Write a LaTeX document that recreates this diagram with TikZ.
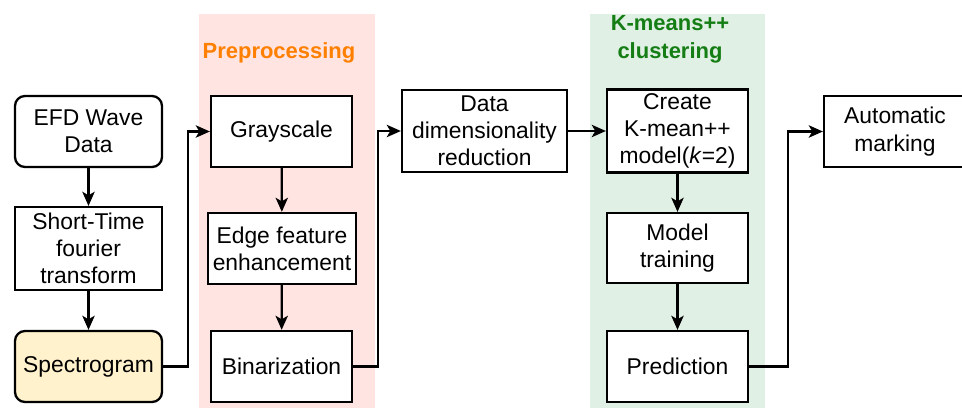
\documentclass[tikz,border=0pt]{standalone}
\usepackage{fontspec}
\setmainfont{Liberation Sans}
\usepackage{xcolor}
\usetikzlibrary{arrows.meta, positioning}
\definecolor{prepink}{RGB}{255,228,225}
\definecolor{kmgreen}{RGB}{225,240,228}
\definecolor{specyellow}{RGB}{255,242,204}
\definecolor{preorange}{RGB}{255,128,0}
\definecolor{kmtext}{RGB}{20,125,20}

\begin{document}
\begin{tikzpicture}[
    box/.style={draw, line width=1.3pt, fill=white, align=center, inner sep=1pt,
        font=\fontsize{13}{15.5}\selectfont},
    roundbox/.style={box, rounded corners=0.2cm},
    title/.style={align=center, font=\fontsize{12.5}{16}\selectfont\bfseries},
    flow/.style={line width=1.3pt, -{Stealth[length=8pt, width=7pt, inset=2pt]}}
]
    \path[use as bounding box, clip] (0,0) rectangle (19.24,8.16);

    % Stage backgrounds
    \fill[prepink] (3.98,0) rectangle (7.5,7.88);
    \fill[kmgreen] (11.8,0) rectangle (15.3,7.88);
    \node[title, text=preorange] (pretitle) at (5.58,7.1) {Preprocessing};
    \node[title, text=kmtext] (kmtitle) at (13.4,7.38) {K-means++\\clustering};

    % Input chain
    \node[roundbox, minimum width=2.94cm, minimum height=1.42cm] (efd) at (1.77,5.53) {EFD Wave\\Data};
    \node[box, minimum width=2.94cm, minimum height=1.66cm] (stft) at (1.77,3.19) {Short-Time\\fourier\\transform};
    \node[roundbox, fill=specyellow, minimum width=2.94cm, minimum height=1.42cm] (spec) at (1.77,0.83) {Spectrogram};

    % Preprocessing
    \node[box, minimum width=2.82cm, minimum height=1.42cm] (gray) at (5.63,5.53) {Grayscale};
    \node[box, minimum width=2.96cm, minimum height=1.42cm] (edge) at (5.64,3.19) {Edge feature\\enhancement};
    \node[box, minimum width=2.82cm, minimum height=1.42cm] (binar) at (5.63,0.83) {Binarization};

    % Reduction
    \node[box, minimum width=3.3cm, minimum height=1.64cm] (dimred) at (9.69,5.54) {Data\\dimensionality\\reduction};

    % Clustering
    \node[box, minimum width=2.82cm, minimum height=1.66cm] (create) at (13.55,5.54) {Create\\K-mean++\\model(\textit{k}=2)};
    \node[box, minimum width=2.82cm, minimum height=1.4cm] (train) at (13.55,3.2) {Model\\training};
    \node[box, minimum width=2.82cm, minimum height=1.42cm] (pred) at (13.55,0.83) {Prediction};

    % Output
    \node[box, minimum width=2.84cm, minimum height=1.42cm] (mark) at (17.9,5.53) {Automatic\\marking};

    % Connectors
    \draw[flow] (efd) -- (stft);
    \draw[flow] (stft) -- (spec);
    \draw[flow] (spec.east) -- ++(0.5,0) |- (gray.west);
    \draw[flow] (gray) -- (edge);
    \draw[flow] (edge) -- (binar);
    \draw[flow] (binar.east) -- ++(0.5,0) |- (dimred.west);
    \draw[flow] (dimred.east) -- (dimred.east -| create.west);
    \draw[flow] (create) -- (train);
    \draw[flow] (train) -- (pred);
    \draw[flow] (pred.east) -- ++(0.78,0) |- (mark.west);
\end{tikzpicture}
\end{document}
